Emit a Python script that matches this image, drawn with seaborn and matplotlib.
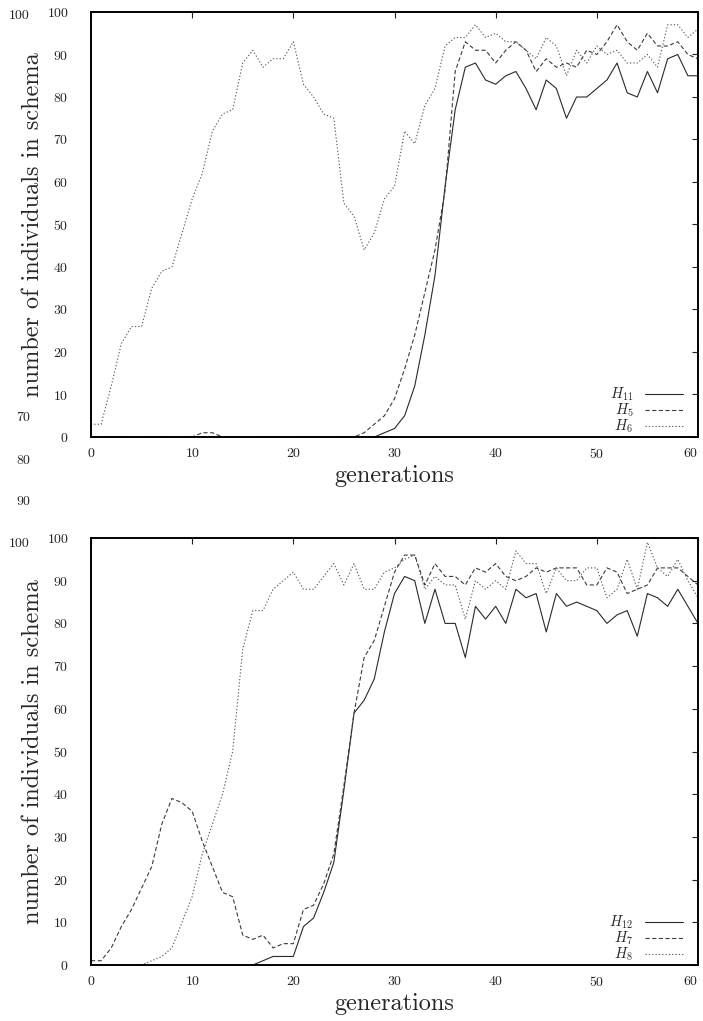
"""Schema counts over generations, two stacked panels."""

import matplotlib

matplotlib.use("Agg")
import matplotlib.pyplot as plt
import numpy as np
import pandas as pd
import seaborn as sns

GENERATIONS = np.arange(61)

# top panel
H11 = [0] * 29 + [1, 2, 5, 12, 24, 38, 59, 77, 87, 88, 84, 83, 85, 86, 82, 77, 84, 82,
                  75, 80, 80, 82, 84, 88, 81, 80, 86, 81, 89, 90, 85, 85]
H5 = [0] * 11 + [1, 1] + [0] * 14 + [1, 3, 5, 9, 16, 24, 34, 44, 58, 86, 93, 91, 91, 88,
                                     91, 93, 91, 86, 89, 87, 88, 87, 91, 90, 93, 97, 93,
                                     91, 95, 92, 92, 93, 90, 89]
H6 = [3, 3, 12, 22, 26, 26, 35, 39, 40, 48, 56, 62, 72, 76, 77, 88, 91, 87, 89, 89, 93,
      83, 80, 76, 75, 55, 52, 44, 48, 56, 59, 72, 69, 78, 82, 92, 94, 94, 97, 94, 95,
      93, 93, 91, 89, 94, 92, 85, 91, 88, 92, 90, 91, 88, 88, 90, 87, 97, 97, 94, 96]

# bottom panel
H12 = [0] * 17 + [1, 2, 2, 2, 9, 11, 17, 24, 41, 59, 62, 67, 78, 87, 91, 90, 80, 88, 80,
                  80, 72, 84, 81, 84, 80, 88, 86, 87, 78, 87, 84, 85, 84, 83, 80, 82, 83,
                  77, 87, 86, 84, 88, 84, 80]
H7 = [1, 1, 4, 9, 13, 18, 23, 33, 39, 38, 36, 29, 23, 17, 16, 7, 6, 7, 4, 5, 5, 13, 14,
      19, 26, 42, 59, 72, 76, 84, 92, 96, 96, 89, 94, 91, 91, 89, 93, 92, 94, 91, 90,
      91, 93, 92, 93, 93, 93, 89, 89, 93, 92, 87, 88, 89, 93, 93, 93, 91, 89]
H8 = [0] * 6 + [1, 2, 4, 10, 16, 26, 33, 40, 50, 74, 83, 83, 88, 90, 92, 88, 88, 91, 94,
                89, 94, 88, 88, 92, 93, 95, 96, 88, 91, 89, 89, 81, 90, 88, 90, 88, 97,
                94, 94, 87, 93, 90, 90, 93, 93, 86, 88, 95, 88, 99, 93, 91, 95, 90, 86]

TOP_SERIES = [("$H_{11}$", H11), ("$H_5$", H5), ("$H_6$", H6)]
BOTTOM_SERIES = [("$H_{12}$", H12), ("$H_7$", H7), ("$H_8$", H8)]

LINE_COLORS = ["#2a2a2a", "#3a3a3a", "#555555"]
LINE_DASHES = ["", (3.0, 1.8), (0.9, 1.5)]

sns.set_style("white")
plt.rcParams["font.family"] = ["cmr10", "DejaVu Serif"]
plt.rcParams["mathtext.fontset"] = "cm"
plt.rcParams["axes.formatter.use_mathtext"] = True
plt.rcParams["lines.scale_dashes"] = False

W, H = 703, 1021


def draw_panel(ax, series) -> None:
    frames = []
    for name, values in series:
        frames.append(pd.DataFrame({"gen": GENERATIONS, "count": values, "schema": name}))
    df = pd.concat(frames, ignore_index=True)
    names = [name for name, _ in series]

    sns.lineplot(
        data=df,
        x="gen",
        y="count",
        hue="schema",
        style="schema",
        palette=dict(zip(names, LINE_COLORS)),
        dashes=dict(zip(names, LINE_DASHES)),
        linewidth=0.8,
        legend=False,
        ax=ax,
    )

    ax.set_xlim(0, 60)
    ax.set_ylim(0, 100)
    ax.set_xticks(range(0, 61, 10))
    ax.set_yticks(range(0, 101, 10))
    ax.tick_params(direction="in", top=True, right=True, length=4, width=0.8,
                   labelsize=10, colors="#222222")
    ax.tick_params(axis="y", pad=16)
    ax.tick_params(axis="x", pad=7)
    for spine in ax.spines.values():
        spine.set_linewidth(1.4)
        spine.set_color("black")
    # last label sits flush with the right edge, as in the original
    ax.get_xticklabels()[-1].set_horizontalalignment("right")

    ax.set_xlabel("generations", fontsize=17.5, labelpad=3)
    ax.set_ylabel("number of individuals in schema", fontsize=17.5, labelpad=2)

    handles = ax.get_lines()[: len(names)]
    ax.legend(
        handles,
        names,
        loc="lower right",
        bbox_to_anchor=(0.975, 0.004),
        frameon=False,
        markerfirst=False,
        fontsize=10.5,
        handlelength=2.6,
        handletextpad=0.8,
        labelspacing=-0.1,
        borderaxespad=0.0,
        borderpad=0.0,
    )


fig = plt.figure(figsize=(W / 100, H / 100), dpi=100)
ax_top = fig.add_axes([91 / W, 1 - 437 / H, 607 / W, 425 / H])
ax_bot = fig.add_axes([91 / W, 1 - 965 / H, 607 / W, 427 / H])

draw_panel(ax_top, TOP_SERIES)
draw_panel(ax_bot, BOTTOM_SERIES)

# stray tick labels in the left margin of the original page
STRAY_LABELS = ["100", "70", "80", "90", "100"]
STRAY_Y = [16, 418, 461, 502, 544]
for label, y in zip(STRAY_LABELS, STRAY_Y):
    fig.text(30 / W, 1 - y / H, label, ha="right", va="center", fontsize=10, color="#222222")

fig.savefig("out.png", dpi=100)
